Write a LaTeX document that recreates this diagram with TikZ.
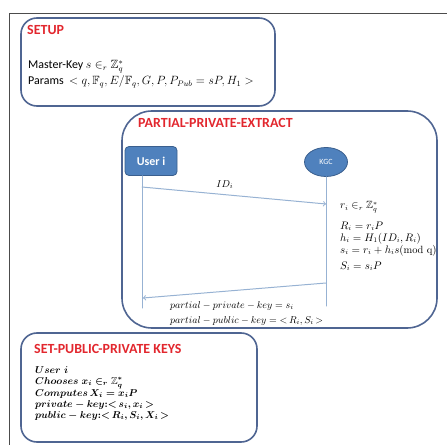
\documentclass[tikz,border=0pt]{standalone}
\usepackage{amssymb}
\usepackage{fontspec}
\setsansfont{Carlito}
\usetikzlibrary{positioning,shapes.geometric}

\definecolor{frameblue}{HTML}{4F6592}
\definecolor{titlered}{HTML}{E2272E}
\definecolor{lifeblue}{HTML}{97B2D3}
\definecolor{actorblue}{HTML}{4F81BD}
\definecolor{actorline}{HTML}{3A5F8E}

\tikzset{
  phase/.style={draw=frameblue, line width=1.6bp},
  phasetitle/.style={anchor=base west, inner sep=0pt, text=titlered,
    font=\sffamily\bfseries\fontsize{14}{16}\selectfont},
  body/.style={anchor=base west, inner sep=0pt, font=\sffamily\fontsize{12}{14}\selectfont},
  mathline/.style={anchor=base west, inner sep=0pt, font=\fontsize{10}{12}\selectfont},
  kgcline/.style={mathline, font=\fontsize{10.5}{12}\selectfont},
  keyline/.style={mathline, font=\fontsize{10}{12}\selectfont\boldmath},
  life/.style={draw=lifeblue, line width=1bp},
  msg/.style={life, ->},
}

\begin{document}
\begin{tikzpicture}[x=1bp,y=-1bp,line cap=round,line join=round]
  \useasboundingbox (0,0) rectangle (447,445);
  % outer frame, cut by the page edge
  \draw[gray!60!black, line width=0.8bp] (9,445) -- (9,13) -- (447,13);
  % the three phases
  \draw[phase, rounded corners=16] (21,18) rectangle (275,106);
  \draw[phase, rounded corners=30] (122,111) rectangle (437,328);
  \draw[phase, rounded corners=16] (21,333) rectangle (257,442);
  % SETUP
  \node[phasetitle] (setupT) at (27,35) {SETUP};
  \node[body] (mkey) at (28,69) {Master-Key $s\in_r\mathbb{Z}_q^*$};
  \node[body] (params) at (28,85) {Params\ \ $<q,\mathbb{F}_q,E/\mathbb{F}_q,G,P,P_{Pub}=sP,H_1>$};
  % PARTIAL-PRIVATE-EXTRACT
  \node[phasetitle] (ppeT) at (138,128) {PARTIAL-PRIVATE-EXTRACT};
  \node[draw=actorline, fill=actorblue, rounded corners=4, line width=0.8bp,
    minimum width=52bp, minimum height=29bp, text=white,
    font=\sffamily\bfseries\fontsize{12}{14}\selectfont] (user) at (151,161) {User i};
  \node[draw=actorline, fill=actorblue, ellipse, line width=0.8bp, inner sep=0pt,
    minimum width=43bp, minimum height=29bp, text=white,
    font=\sffamily\fontsize{8}{9}\selectfont] (kgc) at (326,162) {KGC};
  \coordinate (uEnd) at (142,308);
  \coordinate (kEnd) at (326,306);
  \draw[life] (user.south -| uEnd) -- (uEnd);
  \draw[life] (kgc.south) -- (kEnd);
  \coordinate (idA) at (142,187);
  \coordinate (idB) at (326,204);
  \draw[msg] (idA) -- node[pos=0.45, above=2bp, font=\fontsize{10}{12}\selectfont] (idL) {$ID_i$} (idB);
  \node[kgcline] (ri) at (340,209) {$r_i\in_r\mathbb{Z}_q^*$};
  \node[kgcline] (Ri) at (340,229) {$R_i=r_iP$};
  \node[kgcline] (hi) at (340,241) {$h_i=H_1(ID_i,R_i)$};
  \node[kgcline] (si) at (340,253) {$s_i=r_i+h_is(\mathrm{mod\ q})$};
  \node[kgcline] (Si) at (340,269) {$S_i=s_iP$};
  \coordinate (kA) at (326,283);
  \coordinate (kB) at (143,298);
  \draw[msg] (kA) -- (kB);
  \node[mathline] (ppk) at (170,308) {$partial-private-key=s_i$};
  \node[mathline] (pbk) at (170,323) {$partial-public-key={<}\,R_i,S_i\,{>}$};
  % SET-PUBLIC-PRIVATE KEYS
  \node[phasetitle] (spkT) at (34,353) {SET-PUBLIC-PRIVATE KEYS};
  \foreach \y/\txt [count=\i] in {
      373/{User\ i},
      384/{Chooses\ x_i\in_r\mathbb{Z}_q^*},
      396/{Computes\,X_i=x_iP},
      407/{private-key{:}{<}\,s_i,x_i\,{>}},
      418/{public-key{:}{<}\,R_i,S_i,X_i\,{>}}}
    \node[keyline] (key\i) at (35,\y) {$\txt$};
\end{tikzpicture}
\end{document}
